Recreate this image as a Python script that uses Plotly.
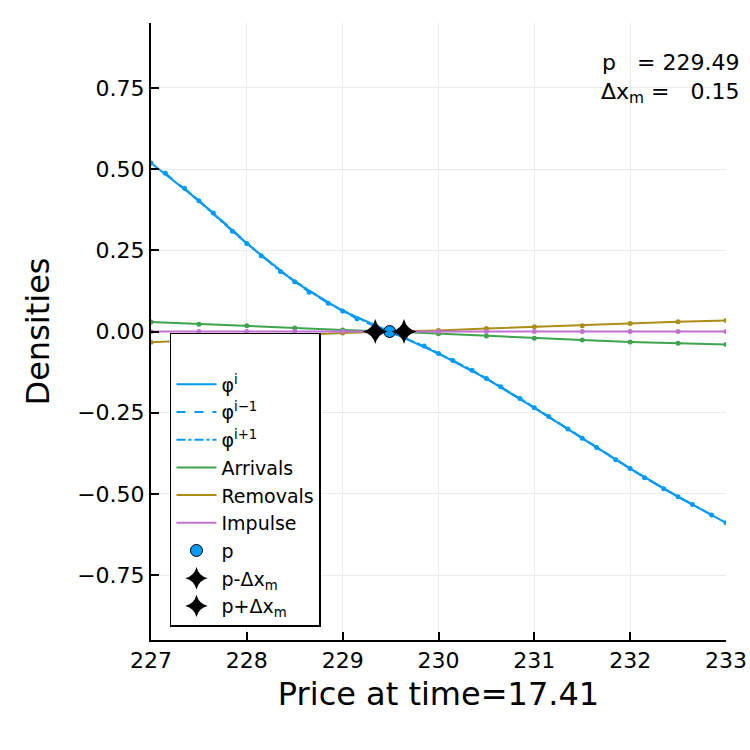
import plotly.graph_objects as go

# phi on the main grid (step 0.5) and the two shifted grids
x_grid = [227.0, 227.5, 228.0, 228.5, 229.0, 229.5, 230.0, 230.5, 231.0, 231.5, 232.0, 232.5, 233.0]
phi_i = [0.519, 0.403, 0.271, 0.153, 0.063, -0.001, -0.068, -0.145, -0.235, -0.329, -0.422, -0.509, -0.589]

x_im1 = [227.15, 227.65, 228.15, 228.65, 229.15, 229.65, 230.15, 230.65, 231.15, 231.65, 232.15, 232.65]
phi_im1 = [0.487, 0.365, 0.233, 0.121, 0.039, -0.019, -0.089, -0.170, -0.262, -0.357, -0.450, -0.533]

x_ip1 = [227.35, 227.85, 228.35, 228.85, 229.35, 229.85, 230.35, 230.85, 231.35, 231.85, 232.35, 232.85]
phi_ip1 = [0.441, 0.309, 0.185, 0.087, 0.015, -0.045, -0.119, -0.206, -0.300, -0.395, -0.484, -0.565]

arrivals = [0.029, 0.0225, 0.0175, 0.011, 0.005, 0.0, -0.007, -0.014, -0.021, -0.026, -0.032, -0.036, -0.040]
removals = [-0.033, -0.027, -0.018, -0.011, -0.005, 0.0, 0.003, 0.009, 0.0145, 0.018, 0.0246, 0.030, 0.034]
impulse = [0.0] * len(x_grid)

p = 229.49
dxm = 0.15
t = 17.41

x_ticks = [227, 228, 229, 230, 231, 232, 233]
y_ticks = [-0.75, -0.5, -0.25, 0, 0.25, 0.5, 0.75]
y_ticktext = ["−0.75", "−0.50", "−0.25", "0.00", "0.25", "0.50", "0.75"]

blue = "#009AFA"
green = "#3EA44E"
gold = "#AC8D18"
purple = "#C271D2"

series = [
    ("φ<sup>i</sup>", x_grid, phi_i, blue, "solid"),
    ("φ<sup>i−1</sup>", x_im1, phi_im1, blue, "dash"),
    ("φ<sup>i+1</sup>", x_ip1, phi_ip1, blue, "dashdot"),
    ("Arrivals", x_grid, arrivals, green, "solid"),
    ("Removals", x_grid, removals, gold, "solid"),
    ("Impulse", x_grid, impulse, purple, "solid"),
]

fig = go.Figure()

for name, xs, ys, col, dash in series:
    fig.add_trace(go.Scatter(x=xs, y=ys, mode="lines", name=name,
                             line=dict(color=col, width=2, dash=dash)))
    # markers drawn apart so the legend only shows the line
    fig.add_trace(go.Scatter(x=xs, y=ys, mode="markers", showlegend=False,
                             marker=dict(color=col, size=5), hoverinfo="skip"))

fig.add_trace(go.Scatter(x=[p], y=[0], mode="markers", name="p",
                         marker=dict(color=blue, size=12, line=dict(color="black", width=1))))
fig.add_trace(go.Scatter(x=[p - dxm], y=[0], mode="markers", name="p-Δx<sub>m</sub>",
                         marker=dict(color="black", symbol="star-diamond", size=18)))
fig.add_trace(go.Scatter(x=[p + dxm], y=[0], mode="markers", name="p+Δx<sub>m</sub>",
                         marker=dict(color="black", symbol="star-diamond", size=18)))

fig.add_annotation(
    text="p\u00a0\u00a0\u00a0= 229.49<br>Δx<sub>m</sub> =\u00a0\u00a0\u00a00.15",
    xref="paper", yref="paper", x=1.026, y=0.959, xanchor="right", yanchor="top",
    align="right", showarrow=False, font=dict(size=22, color="black"))

axis_style = dict(showline=True, linecolor="black", linewidth=2, mirror=False,
                  ticks="inside", ticklen=8, tickwidth=1.5, tickcolor="black",
                  showgrid=True, gridcolor="#ebebeb", gridwidth=1, zeroline=False,
                  tickfont=dict(size=22, color="black"))

fig.update_xaxes(range=[227, 233], tickvals=x_ticks,
                 title=dict(text=f"Price at time={t}", font=dict(size=32), standoff=10),
                 **axis_style)
fig.update_yaxes(range=[-0.95, 0.95], tickvals=y_ticks, ticktext=y_ticktext,
                 title=dict(text="Densities", font=dict(size=32), standoff=18),
                 **axis_style)

fig.update_layout(
    width=750, height=750,
    margin=dict(l=151, r=24, t=23, b=110, autoexpand=False),
    plot_bgcolor="white", paper_bgcolor="white",
    font=dict(family="DejaVu Sans", color="black"),
    legend=dict(x=0.033, y=0.498, xanchor="left", yanchor="top",
                bgcolor="white", bordercolor="black", borderwidth=1.5,
                font=dict(size=19), itemwidth=40, tracegroupgap=0,
                title=dict(text=" ", font=dict(size=24))),
)

# drop the default 8px body margin so the figure sits at the page corner
fig.write_html("out.html", config={"displayModeBar": False},
               post_script="document.body.style.margin='0px';")
